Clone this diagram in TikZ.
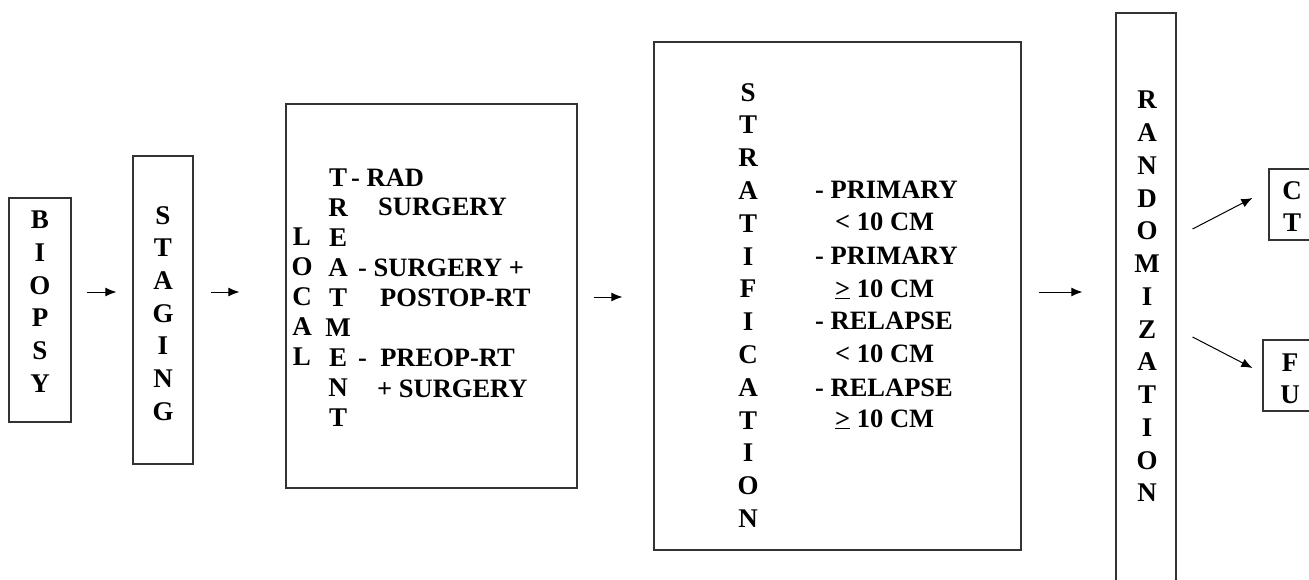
\documentclass[tikz,border=0pt]{standalone}
\usepackage{fontspec}
\setmainfont{Liberation Serif}
\usetikzlibrary{arrows.meta}

\tikzset{
  box/.style={draw=black!80, line width=1.2pt, inner sep=0pt},
  stack/.style={align=center, inner sep=0pt, anchor=north, font=\bfseries\fontsize{27}{32.7}\selectfont},
  item/.style={anchor=west, inner sep=0pt, text height=18pt, text depth=0pt, font=\bfseries\fontsize{26.5}{30}\selectfont},
  arr/.style={-{Latex[length=11pt,width=9pt]}, line width=1pt}
}

\begin{document}
\begin{tikzpicture}[x=1pt, y=-1pt]
                \useasboundingbox (0,0) rectangle (1309,580);
                \clip (0,0) rectangle (1309,580);

                % Boxes
                \node[box, minimum width=62pt, minimum height=224pt] (biopsy) at (40,310) {};
                \node[box, minimum width=60pt, minimum height=308pt] (staging) at (163,310) {};
                \node[box, minimum width=291pt, minimum height=384pt] (local) at (431.5,296) {};
                \node[box, minimum width=367pt, minimum height=508pt] (strat) at (837.5,296) {};
                \node[box, minimum width=60pt, minimum height=600pt] (rand) at (1146,313) {};
                \node[box, minimum width=46pt, minimum height=71pt] (ct) at (1292,204.5) {};
                \node[box, minimum width=54pt, minimum height=71pt] (fu) at (1290,375.5) {};

                % Vertical words
                \node[stack] (biopsytxt) at (40,211) {B\\I\\O\\P\\S\\Y};
                \node[stack] (stagingtxt) at (163,206) {S\\T\\A\\G\\I\\N\\G};
                \node[stack, font=\bfseries\fontsize{27}{30}\selectfont] (localtxt) at (302,228) {L\\O\\C\\A\\L};
                \node[stack, font=\bfseries\fontsize{27}{29.9}\selectfont] (treattxt) at (338,169) {T\\R\\E\\A\\T\\M\\E\\N\\T};
                \node[stack, font=\bfseries\fontsize{27}{32.8}\selectfont] (strattxt) at (748,83) {S\\T\\R\\A\\T\\I\\F\\I\\C\\A\\T\\I\\O\\N};
                \node[stack, font=\bfseries\fontsize{27}{32.75}\selectfont] (randtxt) at (1147,91) {R\\A\\N\\D\\O\\M\\I\\Z\\A\\T\\I\\O\\N};
                \node[stack, font=\bfseries\fontsize{27}{32}\selectfont] (cttxt) at (1292,181) {C\\T};
                \node[stack, font=\bfseries\fontsize{27}{32}\selectfont] (futxt) at (1290,354) {F\\U};

                % Treatment options
                \node[item] (rad) at (351,178) {- RAD};
                \node[item] (surgery) at (378,207) {SURGERY};
                \node[item] (surgplus) at (358,267) {- SURGERY +};
                \node[item] (postop) at (380,297) {POSTOP-RT};
                \node[item] (preop) at (358,357) {-~~PREOP-RT};
                \node[item] (plussurg) at (377,388) {+ SURGERY};

                % Strata
                \node[item] (prim1) at (815,190) {- PRIMARY};
                \node[item] (prim1cm) at (835,222) {< 10 CM};
                \node[item] (prim2) at (815,255) {- PRIMARY};
                \node[item] (prim2cm) at (835,288) {\underline{>} 10 CM};
                \node[item] (rel1) at (815,320) {- RELAPSE};
                \node[item] (rel1cm) at (835,353) {< 10 CM};
                \node[item] (rel2) at (815,387) {- RELAPSE};
                \node[item] (rel2cm) at (835,418) {\underline{>} 10 CM};

                % Arrows
                \draw[arr, shorten <=15pt, shorten >=16pt] ([yshift=18pt]biopsy.east) -- ([yshift=18pt]staging.west);
                \draw[arr, shorten <=17pt, shorten >=46pt] ([yshift=18pt]staging.east) -- ([yshift=4pt]local.west);
                \draw[arr, shorten <=16pt, shorten >=31pt] ([yshift=-1pt]local.east) -- ([yshift=-1pt]strat.west);
                \draw[arr, shorten <=17pt, shorten >=33pt] ([yshift=4pt]strat.east) -- ([yshift=21pt]rand.west);
                \draw[arr] ([xshift=16pt,yshift=84pt]rand.east) -- ([xshift=-16pt,yshift=6.5pt]ct.west);
                \draw[arr] ([xshift=16pt,yshift=-24pt]rand.east) -- ([xshift=-10pt,yshift=7.5pt]fu.west);

            \end{tikzpicture}
\end{document}
